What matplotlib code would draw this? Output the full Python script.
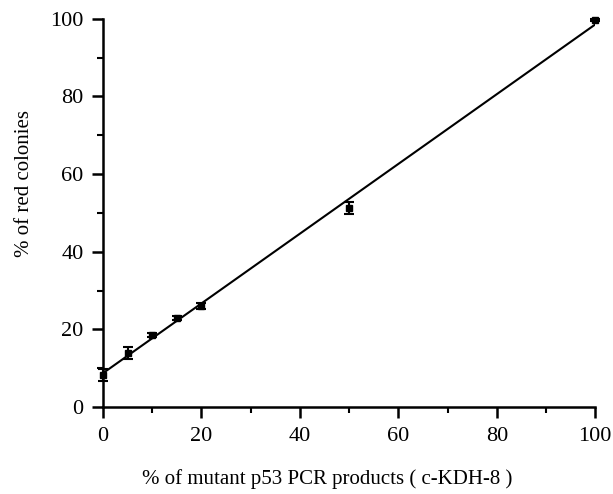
import matplotlib
matplotlib.use("Agg")
import matplotlib.pyplot as plt
import numpy as np
from matplotlib.ticker import MultipleLocator

# Data
mutant_pct = [0, 5, 10, 15, 20, 50, 100]
red_colonies = [8.3, 14.0, 18.5, 23.0, 26.0, 51.3, 99.6]
errors = [1.5, 1.5, 0.5, 0.5, 0.8, 1.6, 0.3]

plt.rcParams['font.family'] = ['Liberation Serif', 'DejaVu Serif']

fig = plt.figure(figsize=(6.13, 4.94), dpi=100)
ax = fig.add_axes([0.168, 0.176, 0.803, 0.786])

slope, intercept = np.polyfit(mutant_pct, red_colonies, 1)
xs = np.array([0, 100])
ax.plot(xs, slope * xs + intercept, color='black', lw=1.5, zorder=2)

ax.errorbar(mutant_pct, red_colonies, yerr=errors, fmt='s', color='black',
            ms=4.5, capsize=3.5, elinewidth=1.5, capthick=1.5, zorder=3, clip_on=False)

ax.set_xlim(0, 100)
ax.set_ylim(0, 100)
ax.xaxis.set_major_locator(MultipleLocator(20))
ax.xaxis.set_minor_locator(MultipleLocator(10))
ax.yaxis.set_major_locator(MultipleLocator(20))
ax.yaxis.set_minor_locator(MultipleLocator(10))

for s in ['top', 'right']:
    ax.spines[s].set_visible(False)
for s in ['left', 'bottom']:
    ax.spines[s].set_linewidth(1.8)

ax.tick_params(which='major', direction='out', length=8, width=1.8, labelsize=16, pad=6)
ax.tick_params(which='minor', direction='out', length=4, width=1.5)

ax.set_xlabel('% of mutant p53 PCR products ( c-KDH-8 )', fontsize=15)
ax.set_ylabel('% of red colonies', fontsize=15)
ax.xaxis.set_label_coords(0.455, -0.16)
ax.yaxis.set_label_coords(-0.14, 0.577)

fig.savefig('out.png', dpi=100)
